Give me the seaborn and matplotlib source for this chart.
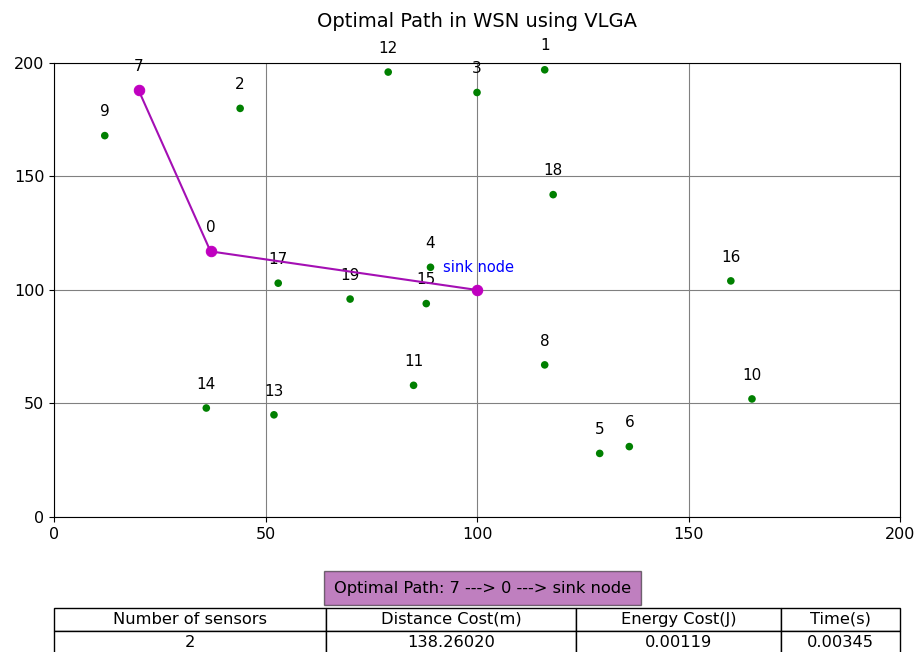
import numpy as np
import pandas as pd
import matplotlib
matplotlib.use('Agg')
import matplotlib.pyplot as plt
import seaborn as sns

# sensor nodes (index = node id)
node_x = [37, 116, 44, 100, 89, 129, 136, 20, 116, 12,
          165, 85, 79, 52, 36, 88, 160, 53, 118, 70]
node_y = [117, 197, 180, 187, 110, 28, 31, 188, 67, 168,
          52, 58, 196, 45, 48, 94, 104, 103, 142, 96]

sink_x, sink_y = 100, 100
path_nodes = [7, 0]

col_labels = ['Number of sensors', 'Distance Cost(m)', 'Energy Cost(J)', 'Time(s)']
row_values = ['2', '138.26020', '0.00119', '0.00345']

df = pd.DataFrame({'x': node_x, 'y': node_y, 'id': range(len(node_x))})
path_x = [node_x[i] for i in path_nodes] + [sink_x]
path_y = [node_y[i] for i in path_nodes] + [sink_y]
path_df = pd.DataFrame({'x': path_x, 'y': path_y})

fig = plt.figure(figsize=(9.17, 6.52), dpi=100)
ax = fig.add_axes([0.0589, 0.2071, 0.9226, 0.6963])

sns.scatterplot(data=df, x='x', y='y', color='green', s=30, edgecolor='none', ax=ax, zorder=3)
for _, r in df.iterrows():
    ax.text(r['x'], r['y'] + 8.5, str(int(r['id'])), ha='center', fontsize=11)

sns.lineplot(data=path_df, x='x', y='y', sort=False, color='#a40fb4', linewidth=1.5,
             marker='o', markersize=7.5, markerfacecolor='#c000c0', markeredgecolor='#c000c0',
             ax=ax, zorder=4)
ax.text(sink_x - 8, sink_y + 8, 'sink node', color='blue', fontsize=10.5)

ax.set_xlim(0, 200)
ax.set_ylim(0, 200)
ax.set_xticks([0, 50, 100, 150, 200])
ax.set_yticks([0, 50, 100, 150, 200])
ax.tick_params(labelsize=11.5)
ax.set_xlabel('')
ax.set_ylabel('')
ax.grid(True, color='gray', linewidth=0.8)
ax.set_axisbelow(True)
ax.set_title('Optimal Path in WSN using VLGA', fontsize=14, pad=26)

fig.text(0.5265, 0.098, 'Optimal Path: ' + ' ---> '.join(str(i) for i in path_nodes) + ' ---> sink node',
         ha='center', va='center', fontsize=11.7,
         bbox=dict(facecolor='purple', alpha=0.5, edgecolor='black', pad=7))

widths = np.array([272, 250, 205, 119]) / 846
tbl = ax.table(cellText=[row_values], colLabels=col_labels, colWidths=list(widths),
               cellLoc='center', bbox=[0, -0.302, 1, 0.102])
tbl.auto_set_font_size(False)
tbl.set_fontsize(11.7)

fig.savefig('out.png', dpi=100)
